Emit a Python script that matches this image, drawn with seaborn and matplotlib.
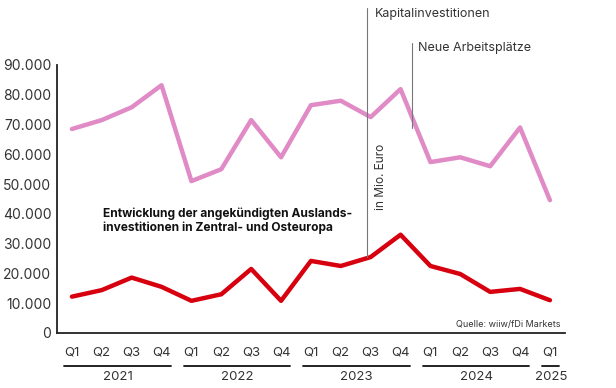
import matplotlib
matplotlib.use("Agg")
import matplotlib.pyplot as plt
import seaborn as sns
import pandas as pd

quartale = ["Q1", "Q2", "Q3", "Q4"] * 4 + ["Q1"]
jahre = ["2021", "2022", "2023", "2024", "2025"]
kapital = [68500, 71500, 75800, 83200, 51000, 55000, 71500, 59000, 76500, 78000,
           72500, 81900, 57400, 59000, 56000, 69000, 44600]
arbeitsplaetze = [12200, 14400, 18600, 15500, 10800, 13000, 21500, 10800, 24200, 22500,
                  25500, 33000, 22500, 19800, 13800, 14800, 11000]
y_ticks = [0, 10000, 20000, 30000, 40000, 50000, 60000, 70000, 80000, 90000]

ROSA = "#e08ac6"
ROT = "#d7000f"
GRAU = "#333333"

sns.set_theme(style="white")
plt.rcParams["font.family"] = ["Inter", "DejaVu Sans"]

df = pd.DataFrame({
    "idx": list(range(len(kapital))) * 2,
    "wert": kapital + arbeitsplaetze,
    "reihe": ["Kapital"] * len(kapital) + ["Jobs"] * len(arbeitsplaetze),
})

fig = plt.figure(figsize=(6.16, 3.88), dpi=100)
ax = fig.add_axes([0.0925, 0.1418, 0.8245, 0.6907])

sns.lineplot(data=df, x="idx", y="wert", hue="reihe",
             palette={"Kapital": ROSA, "Jobs": ROT}, linewidth=3.2,
             legend=False, ax=ax)

ax.set_xlim(-0.5, 16.5)
ax.set_ylim(0, 90000)
ax.set_yticks(y_ticks)
ax.set_yticklabels([f"{v:,}".replace(",", ".") for v in y_ticks],
                   fontsize=10, color=GRAU)
ax.set_xticks(range(len(quartale)))
ax.set_xticklabels(quartale, fontsize=9.5, color=GRAU)
ax.tick_params(axis="both", length=0, pad=4)
ax.tick_params(axis="x", pad=10)
ax.set_xlabel("")
ax.set_ylabel("")

for s in ["top", "right"]:
    ax.spines[s].set_visible(False)
for s in ["left", "bottom"]:
    ax.spines[s].set_color("#222222")
    ax.spines[s].set_linewidth(1.3)

# Jahresgruppen unter den Quartalen
trans = ax.get_xaxis_transform()
for i, jahr in enumerate(jahre):
    start = i * 4
    ende = min(start + 3, len(quartale) - 1)
    ax.plot([start - 0.25, ende + 0.3], [-0.125, -0.125], color="#111111",
            linewidth=1.3, transform=trans, clip_on=False)
    ax.text((start + ende) / 2 + 0.03, -0.142, jahr, transform=trans, ha="center",
            va="top", fontsize=9.5, color=GRAU)

# Beschriftungslinien
ax.plot([9.89, 9.89], [arbeitsplaetze[10], 109000], color="#777777",
        linewidth=0.8, clip_on=False)
ax.text(10.15, 107100, "Kapitalinvestitionen", fontsize=9, color=GRAU,
        va="center", ha="left")
ax.plot([11.39, 11.39], [68800, 97400], color="#777777",
        linewidth=0.8, clip_on=False)
ax.text(11.6, 95700, "Neue Arbeitsplätze", fontsize=9, color=GRAU,
        va="center", ha="left")
ax.text(10.35, 52500, "in Mio. Euro", fontsize=8.5, color=GRAU,
        rotation=90, va="center", ha="center")

ax.text(1.05, 37800, "Entwicklung der angekündigten Auslands-\n"
        "investitionen in Zentral- und Osteuropa",
        fontsize=8.6, fontweight="bold", color="#111111",
        va="center", ha="left", linespacing=1.15)

ax.text(16.37, 3000, "Quelle: wiiw/fDi Markets", fontsize=6.5, color=GRAU,
        ha="right", va="center")

fig.savefig("out.png", dpi=100)
